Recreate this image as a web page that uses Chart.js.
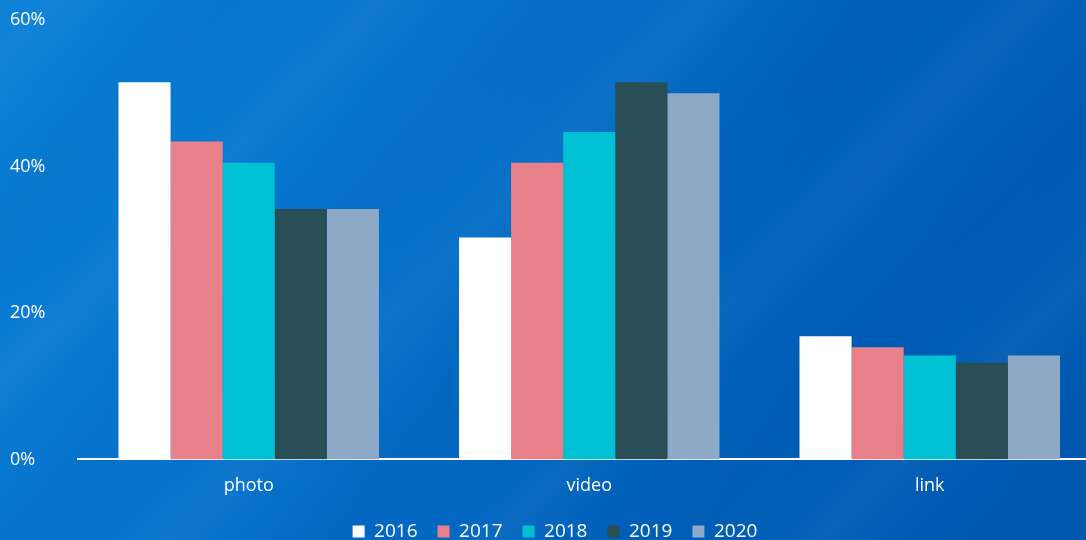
<!DOCTYPE html>
<html>
<head>
<meta charset="utf-8">
<script src="https://cdn.jsdelivr.net/npm/chart.js@4"></script>
<style>
  html, body { margin: 0; padding: 0; }
  body {
    width: 1086px; height: 540px; overflow: hidden;
    background:
      repeating-linear-gradient(135deg, rgba(255,255,255,0) 0px, rgba(255,255,255,0.04) 40px, rgba(255,255,255,0) 90px, rgba(0,40,120,0.05) 160px, rgba(255,255,255,0) 230px),
      linear-gradient(120deg, #0a80d6 0%, #0572cc 35%, #0061bb 65%, #0058ae 100%);
  }
  #wrap { position: relative; width: 1128px; height: 540px; }
</style>
</head>
<body>
<div id="wrap"><canvas id="chart"></canvas></div>
<script>
// categories and series (share of posts, %)
const categories = ['photo', 'video', 'link'];
const years = ['2016', '2017', '2018', '2019', '2020'];
const colors = ['#ffffff', '#e8808a', '#00c1d4', '#2a4e55', '#8ea8c8'];
const v2016 = [51.5, 30.3, 16.8];
const v2017 = [43.4, 40.5, 15.3];
const v2018 = [40.5, 44.7, 14.2];
const v2019 = [34.2, 51.5, 13.2];
const v2020 = [34.2, 50.0, 14.2];
const yTicks = [0, 20, 40, 60];

const series = [v2016, v2017, v2018, v2019, v2020];
const font = "'Open Sans', 'Lato', sans-serif";

const ctx = document.getElementById('chart').getContext('2d');
const chart = new Chart(ctx, {
  type: 'bar',
  data: {
    labels: categories,
    datasets: years.map((y, i) => ({
      label: y,
      data: series[i],
      backgroundColor: colors[i],
      borderWidth: 0,
      categoryPercentage: 0.765,
      barPercentage: 1
    }))
  },
  options: {
    responsive: true,
    maintainAspectRatio: false,
    animation: false,
    layout: { padding: { left: 10, top: 0, right: 28, bottom: -11 } },
    plugins: {
      tooltip: { enabled: false },
      legend: {
        position: 'bottom',
        labels: {
          color: '#ffffff',
          font: { family: font, size: 19 },
          boxWidth: 12,
          boxHeight: 12,
          padding: 20
        }
      }
    },
    scales: {
      x: {
        grid: { display: false, drawTicks: false },
        border: { display: true, color: '#ffffff', width: 2 },
        ticks: {
          color: '#ffffff',
          font: { family: font, size: 18 },
          padding: 16
        },
        afterFit: (axis) => { axis.height -= 11; }
      },
      y: {
        min: 0,
        max: 60,
        afterBuildTicks: (axis) => { axis.ticks = yTicks.map(v => ({ value: v })); },
        afterFit: (axis) => { axis.paddingTop = 20; },
        grid: { display: false, drawTicks: false },
        border: { display: false },
        ticks: {
          color: '#ffffff',
          font: { family: font, size: 18 },
          crossAlign: 'far',
          padding: 16.5,
          callback: (v) => v + '%'
        }
      }
    }
  }
});
</script>
</body>
</html>
